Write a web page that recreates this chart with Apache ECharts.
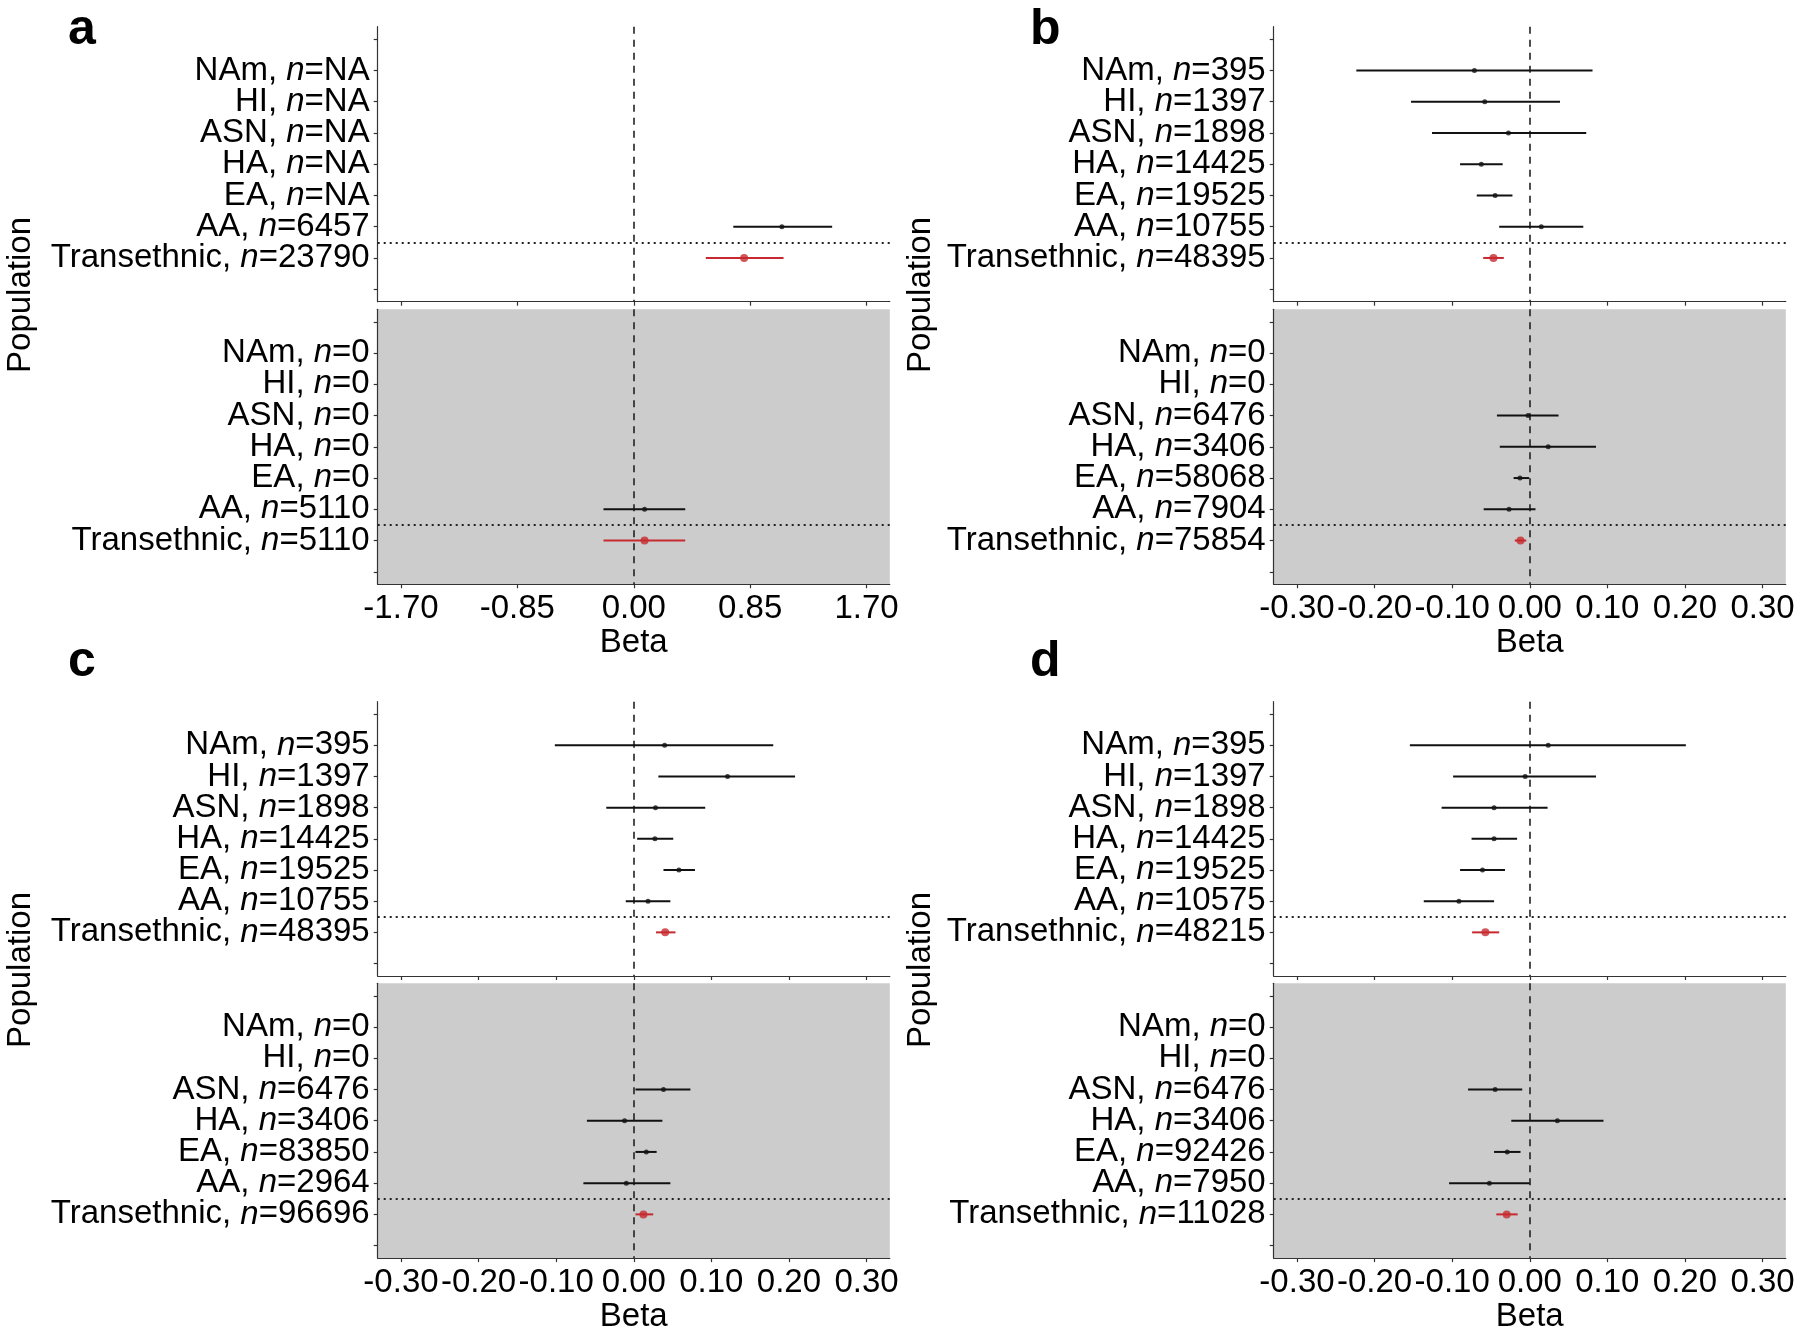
<!DOCTYPE html>
<html>
<head>
<meta charset="utf-8">
<script src="https://cdn.jsdelivr.net/npm/echarts@6/dist/echarts.min.js"></script>
<style>
html,body{margin:0;padding:0;background:#fff;}
#chart{width:1800px;height:1334px;}
</style>
</head>
<body>
<div id="chart"></div>
<script>
// ---------------- DATA ----------------
const populations = ['NAm', 'HI', 'ASN', 'HA', 'EA', 'AA', 'Transethnic'];
const ticksA = [-1.70, -0.85, 0, 0.85, 1.70];
const ticksBCD = [-0.30, -0.20, -0.10, 0, 0.10, 0.20, 0.30];

// panel a
const aTopN    = ['NA', 'NA', 'NA', 'NA', 'NA', '6457', '23790'];
const aTopBeta = [null, null, null, null, null, 1.082, 0.806];
const aTopLow  = [null, null, null, null, null, 0.727, 0.526];
const aTopHigh = [null, null, null, null, null, 1.449, 1.094];
const aBotN    = ['0', '0', '0', '0', '0', '5110', '5110'];
const aBotBeta = [null, null, null, null, null, 0.079, 0.079];
const aBotLow  = [null, null, null, null, null, -0.221, -0.221];
const aBotHigh = [null, null, null, null, null, 0.376, 0.376];

// panel b
const bTopN    = ['395', '1397', '1898', '14425', '19525', '10755', '48395'];
const bTopBeta = [-0.0713, -0.058, -0.0275, -0.0624, -0.0446, 0.0149, -0.0468];
const bTopLow  = [-0.2235, -0.153, -0.126, -0.0898, -0.0683, -0.0394, -0.060];
const bTopHigh = [0.0809, 0.039, 0.0728, -0.0349, -0.0223, 0.069, -0.0334];
const bBotN    = ['0', '0', '6476', '3406', '58068', '7904', '75854'];
const bBotBeta = [null, null, -0.0022, 0.0238, -0.0126, -0.0267, -0.0119];
const bBotLow  = [null, null, -0.0423, -0.0386, -0.0208, -0.0594, -0.0193];
const bBotHigh = [null, null, 0.0371, 0.0854, -0.0007, 0.0074, -0.0045];

// panel c
const cTopN    = ['395', '1397', '1898', '14425', '19525', '10755', '48395'];
const cTopBeta = [0.0398, 0.1209, 0.028, 0.0273, 0.0582, 0.0184, 0.0405];
const cTopLow  = [-0.1017, 0.0317, -0.0354, 0.0044, 0.0383, -0.0103, 0.0287];
const cTopHigh = [0.1798, 0.2079, 0.0921, 0.0509, 0.0789, 0.0472, 0.0538];
const cBotN    = ['0', '0', '6476', '3406', '83850', '2964', '96696'];
const cBotBeta = [null, null, 0.0383, -0.0118, 0.0162, -0.0096, 0.0125];
const cBotLow  = [null, null, 0.0022, -0.0604, 0.0022, -0.0649, 0.0022];
const cBotHigh = [null, null, 0.073, 0.0369, 0.0295, 0.0472, 0.0251];

// panel d
const dTopN    = ['395', '1397', '1898', '14425', '19525', '10575', '48215'];
const dTopBeta = [0.0238, -0.0059, -0.046, -0.046, -0.0609, -0.0913, -0.0572];
const dTopLow  = [-0.1545, -0.0988, -0.1136, -0.075, -0.0898, -0.1366, -0.0743];
const dTopHigh = [0.2012, 0.0854, 0.023, -0.0163, -0.0319, -0.046, -0.0394];
const dBotN    = ['0', '0', '6476', '3406', '92426', '7950', '11028'];
const dBotBeta = [null, null, -0.0446, 0.0356, -0.029, -0.052, -0.0297];
const dBotLow  = [null, null, -0.0795, -0.0238, -0.046, -0.104, -0.0431];
const dBotHigh = [null, null, -0.0097, 0.095, -0.0119, 0.0, -0.0156];

// ---------------- STYLE / LAYOUT ----------------
const FONT = '"Liberation Sans", Arial, Helvetica, sans-serif';
const FS = 33;
const RED = '#c62a30';
const BLACK = '#111111';
const AXIS = '#333333';
const GRAY = '#cccccc';

const colLeft = [377.7, 1273.7];
const gridW = 512.1;
const rowTops = [[26.7, 309.3], [701.7, 983.3]];
const rowHeights = [[275, 275], [274.3, 276]];

const subplots = [
  {col: 0, row: 0, sub: 0, n: aTopN, beta: aTopBeta, low: aTopLow, high: aTopHigh, ticks: ticksA, lim: 1.87},
  {col: 0, row: 0, sub: 1, n: aBotN, beta: aBotBeta, low: aBotLow, high: aBotHigh, ticks: ticksA, lim: 1.87},
  {col: 1, row: 0, sub: 0, n: bTopN, beta: bTopBeta, low: bTopLow, high: bTopHigh, ticks: ticksBCD, lim: 0.33},
  {col: 1, row: 0, sub: 1, n: bBotN, beta: bBotBeta, low: bBotLow, high: bBotHigh, ticks: ticksBCD, lim: 0.33},
  {col: 0, row: 1, sub: 0, n: cTopN, beta: cTopBeta, low: cTopLow, high: cTopHigh, ticks: ticksBCD, lim: 0.33},
  {col: 0, row: 1, sub: 1, n: cBotN, beta: cBotBeta, low: cBotLow, high: cBotHigh, ticks: ticksBCD, lim: 0.33},
  {col: 1, row: 1, sub: 0, n: dTopN, beta: dTopBeta, low: dTopLow, high: dTopHigh, ticks: ticksBCD, lim: 0.33},
  {col: 1, row: 1, sub: 1, n: dBotN, beta: dBotBeta, low: dBotLow, high: dBotHigh, ticks: ticksBCD, lim: 0.33}
];

const grid = [], xAxis = [], yAxis = [], series = [];

function renderBar(params, api) {
  const lo = api.value(0), hi = api.value(1), y = api.value(2), trans = api.value(3);
  const p1 = api.coord([lo, y]);
  const p2 = api.coord([hi, y]);
  return {
    type: 'line',
    shape: {x1: p1[0], y1: p1[1], x2: p2[0], y2: p2[1]},
    style: {stroke: trans ? RED : BLACK, lineWidth: 2}
  };
}

const rowSlots = [0, 1, 2, 3, 4, 5, 6, 7, 8];

subplots.forEach((sp, i) => {
  const isBottom = sp.sub === 1;
  grid.push({
    left: colLeft[sp.col], top: rowTops[sp.row][sp.sub],
    width: gridW, height: rowHeights[sp.row][sp.sub],
    show: isBottom, backgroundColor: GRAY, borderWidth: 0
  });
  xAxis.push({
    gridIndex: i, type: 'value', min: -sp.lim, max: sp.lim,
    axisLine: {show: true, onZero: false, lineStyle: {color: AXIS, width: 1.2}},
    axisTick: {show: true, length: 4, customValues: sp.ticks, lineStyle: {color: AXIS, width: 1.2}},
    axisLabel: {
      show: isBottom, customValues: sp.ticks, margin: 8,
      showMinLabel: true, showMaxLabel: true, hideOverlap: false,
      fontSize: FS, fontFamily: FONT, color: '#000',
      formatter: v => (Math.abs(v) < 1e-9 ? 0 : v).toFixed(2)
    },
    splitLine: {show: false},
    name: isBottom ? 'Beta' : '', nameLocation: 'middle', nameGap: 41,
    nameTextStyle: {fontSize: FS, fontFamily: FONT, color: '#000'}
  });
  const n = sp.n;
  yAxis.push({
    gridIndex: i, type: 'value', inverse: true, min: -0.4, max: 8.4,
    axisLine: {show: true, onZero: false, lineStyle: {color: AXIS, width: 1.2}},
    axisTick: {show: true, length: 4, customValues: rowSlots, lineStyle: {color: AXIS, width: 1.2}},
    axisLabel: {
      customValues: rowSlots, margin: 8,
      showMinLabel: true, showMaxLabel: true, hideOverlap: false,
      fontSize: FS, fontFamily: FONT, color: '#000', lineHeight: 22,
      formatter: v => {
        const k = Math.round(v) - 1;
        if (k < 0 || k >= populations.length) return '';
        return '{r|' + populations[k] + ', }{i|n}{r|=' + n[k] + '}';
      },
      rich: {
        r: {fontSize: FS, fontFamily: FONT, color: '#000', lineHeight: 22},
        i: {fontSize: FS, fontFamily: FONT, color: '#000', fontStyle: 'italic', lineHeight: 22}
      }
    },
    splitLine: {show: false}
  });

  const bars = [], pts = [];
  populations.forEach((p, k) => {
    if (sp.beta[k] === null) return;
    const trans = k === populations.length - 1 ? 1 : 0;
    bars.push([sp.low[k], sp.high[k], k + 1, trans]);
    pts.push({
      value: [sp.beta[k], k + 1],
      symbolSize: trans ? 8 : 5,
      itemStyle: {color: trans ? RED : BLACK}
    });
  });

  series.push({
    type: 'custom', xAxisIndex: i, yAxisIndex: i,
    renderItem: renderBar, data: bars, silent: true, z: 3
  });
  series.push({
    type: 'scatter', xAxisIndex: i, yAxisIndex: i,
    symbol: 'circle', data: pts, silent: true, z: 4,
    markLine: {
      silent: true, symbol: 'none', label: {show: false}, z: 2,
      data: [
        {xAxis: 0, lineStyle: {type: [7, 6], color: '#222', width: 1.6}},
        {yAxis: 6.5, lineStyle: {type: [2, 4], color: '#222', width: 2}}
      ]
    }
  });
});

const graphic = [];
const letters = [['a', 68, 30], ['b', 1030, 30], ['c', 68, 662], ['d', 1030, 662]];
letters.forEach(l => graphic.push({
  type: 'text', x: l[1], y: l[2],
  style: {text: l[0], font: 'bold 50px ' + FONT, fill: '#000', textAlign: 'left', textVerticalAlign: 'middle'}
}));
const popPos = [[21, 295], [921, 295], [21, 970], [921, 970]];
popPos.forEach(p => graphic.push({
  type: 'text', x: p[0], y: p[1], rotation: Math.PI / 2,
  style: {text: 'Population', font: FS + 'px ' + FONT, fill: '#000', textAlign: 'center', textVerticalAlign: 'middle'}
}));

const chart = echarts.init(document.getElementById('chart'), null, {renderer: 'canvas'});
chart.setOption({
  animation: false,
  backgroundColor: '#ffffff',
  grid, xAxis, yAxis, series, graphic
});
</script>
</body>
</html>
